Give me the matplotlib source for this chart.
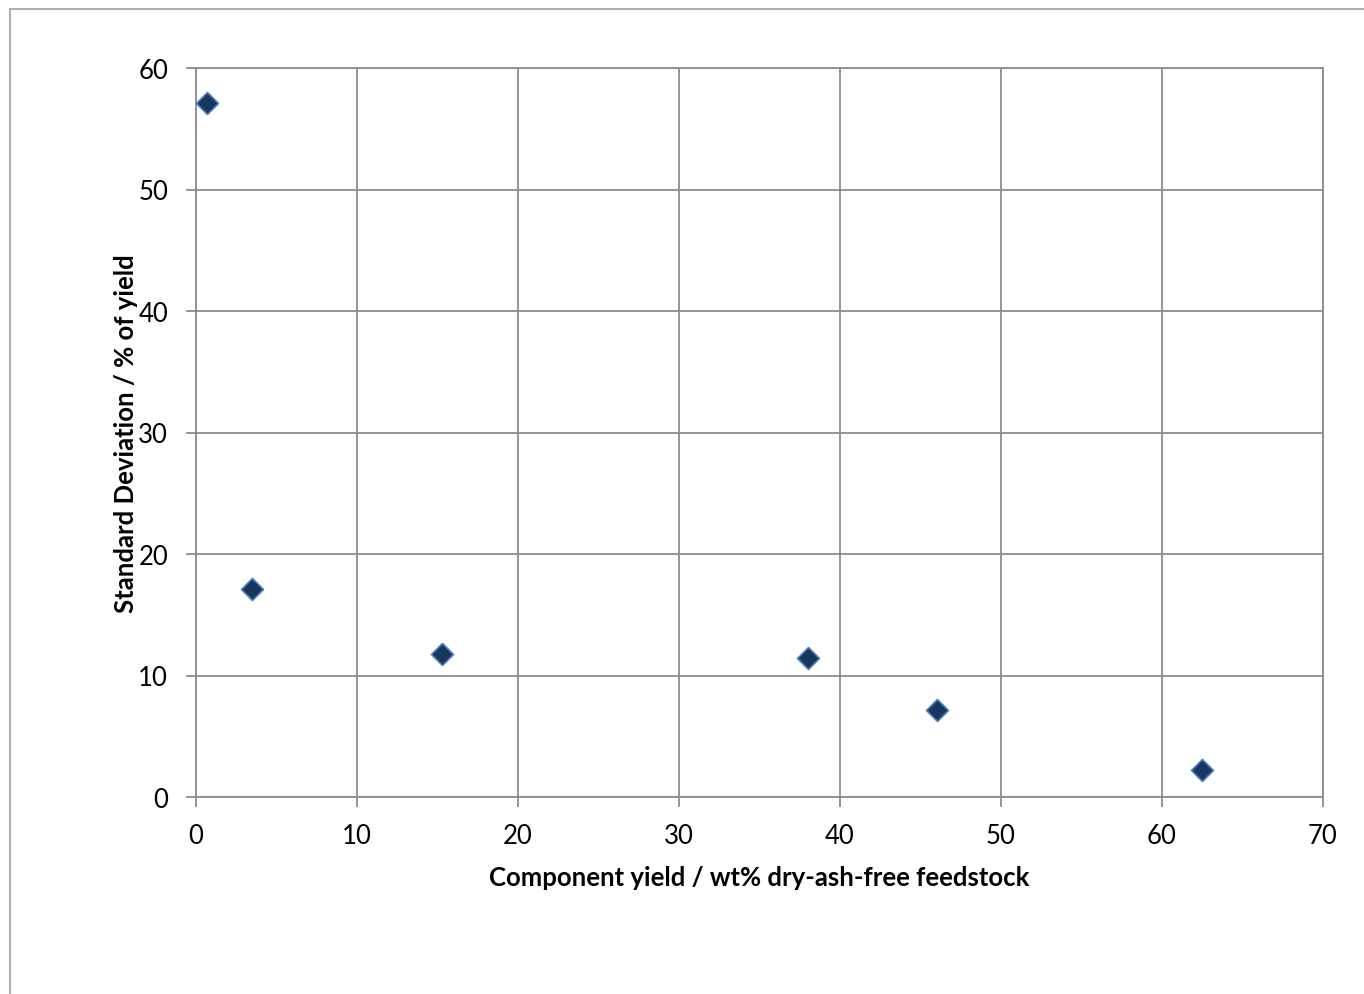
import matplotlib
matplotlib.use("Agg")
import matplotlib.pyplot as plt
from matplotlib.patches import Rectangle

x_vals = [0.7, 3.5, 15.3, 38.0, 46.0, 62.5]
y_vals = [57.1, 17.1, 11.8, 11.4, 7.2, 2.2]
x_ticks = [0, 10, 20, 30, 40, 50, 60, 70]
y_ticks = [0, 10, 20, 30, 40, 50, 60]

plt.rcParams['font.family'] = ['Lato', 'DejaVu Sans']

W, H = 1364, 995
fig = plt.figure(figsize=(W/100, H/100), dpi=100)
fig.patches.append(Rectangle((10/W, -0.1), 1.2, (H-10)/H + 0.1, transform=fig.transFigure,
                             fill=False, edgecolor='#b0b0b0', linewidth=1.5))

ax = fig.add_axes([196/W, 1-798/H, (1323-196)/W, (798-69)/H])
ax.scatter(x_vals, y_vals, marker='D', s=125, facecolor='#17375E', edgecolor='#4A7EBB',
           linewidths=1.2, zorder=3, clip_on=False)
ax.set_xlim(0, 70)
ax.set_ylim(0, 60)
ax.set_xticks(x_ticks)
ax.set_yticks(y_ticks)
ax.grid(True, color='#8c8c8c', linewidth=1.3)
ax.set_axisbelow(True)
for s in ax.spines.values():
    s.set_color('#8c8c8c')
    s.set_linewidth(1.3)
ax.tick_params(axis='both', colors='#8c8c8c', labelcolor='black', length=7, width=1.3,
               labelsize=18.5)
ax.tick_params(axis='x', pad=12)
ax.tick_params(axis='y', pad=13)
ax.set_xlabel('Component yield / wt% dry-ash-free feedstock', fontsize=18.5,
              fontweight='bold', labelpad=12)
ax.set_ylabel('Standard Deviation / % of yield', fontsize=18.5, fontweight='bold', labelpad=0)

fig.savefig('out.png', dpi=100)
